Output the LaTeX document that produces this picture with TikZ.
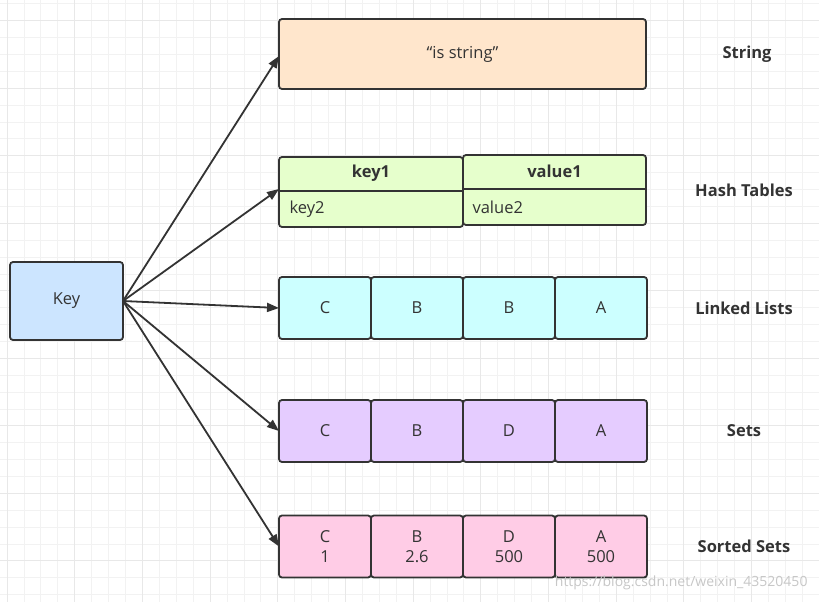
\documentclass[tikz,border=0pt]{standalone}
\usepackage{fontspec}
\setmainfont{Open Sans}
\usepackage{tikz}
\usetikzlibrary{arrows.meta, positioning}

\definecolor{inkgray}{HTML}{333333}
\definecolor{keyblue}{HTML}{CCE5FF}
\definecolor{strpeach}{HTML}{FFE6CC}
\definecolor{hashgreen}{HTML}{E6FFCC}
\definecolor{listcyan}{HTML}{CCFFFF}
\definecolor{setpurple}{HTML}{E5CCFF}
\definecolor{sortpink}{HTML}{FFCCE6}

\begin{document}
\begin{tikzpicture}[
      x=1pt, y=-1pt,
      box/.style={draw=inkgray, line width=1.8pt, rounded corners=3pt, inner sep=0pt, outer sep=0pt, font=\fontsize{16.5}{19}\selectfont, text=inkgray},
      cell/.style={box, minimum width=92pt, minimum height=62pt, align=center},
      typelabel/.style={font=\fontsize{16.5}{19}\selectfont\bfseries, text=inkgray},
      arrow/.style={-{Triangle[length=12pt, width=9pt]}, line width=1.8pt, draw=inkgray},
      gridminor/.style={draw=black!5, line width=0.7pt},
      gridmajor/.style={draw=black!9, line width=1pt}
    ]

      % Background grid
      \useasboundingbox[fill=white] (0,0) rectangle (819,602);
      \foreach \i in {0,...,48} {
        \draw[gridminor] ({-9.92+16.92*\i},0) -- ++(0,602);
      }
      \foreach \i in {0,...,36} {
        \draw[gridminor] (0,{3.8+16.88*\i}) -- ++(819,0);
      }
      \foreach \i in {0,...,12} {
        \draw[gridmajor] ({7+67.68*\i},0) -- ++(0,602);
      }
      \foreach \i in {0,...,9} {
        \draw[gridmajor] (0,{20.7+67.5*\i}) -- ++(819,0);
      }

      % Key box
      \node[box, fill=keyblue, minimum width=113pt, minimum height=78pt] (key) at (66.5,301) {Key};

      % String
      \node[box, fill=strpeach, minimum width=367pt, minimum height=70pt] (string) at (462.5,54) {``is string''};

      % Hash tables - two columns with a header row
      \node[box, fill=hashgreen, minimum width=184pt, minimum height=70pt] (hkey) at (371,192) {};
      \node[box, fill=hashgreen, minimum width=183pt, minimum height=70pt] (hval) at (554.5,190) {};
      \draw[draw=inkgray, line width=1.8pt] ([yshift=-34pt]hkey.north west) -- ([yshift=-34pt]hkey.north east);
      \draw[draw=inkgray, line width=1.8pt] ([yshift=-34pt]hval.north west) -- ([yshift=-34pt]hval.north east);
      \node[font=\fontsize{16.5}{19}\selectfont\bfseries, text=inkgray] (key1) at (371,173) {key1};
      \node[font=\fontsize{16.5}{19}\selectfont\bfseries, text=inkgray] (value1) at (554.5,171) {value1};
      \node[font=\fontsize{16.5}{19}\selectfont, text=inkgray, anchor=west] (key2) at (286,209) {key2};
      \node[font=\fontsize{16.5}{19}\selectfont, text=inkgray, anchor=west] (value2) at (469,207) {value2};

      % Linked lists
      \node[cell, fill=listcyan] (l1) at (325,308) {C};
      \node[cell, fill=listcyan, right=0pt of l1] (l2) {B};
      \node[cell, fill=listcyan, right=0pt of l2] (l3) {B};
      \node[cell, fill=listcyan, right=0pt of l3] (l4) {A};

      % Sets
      \node[cell, fill=setpurple] (s1) at (325,431) {C};
      \node[cell, fill=setpurple, right=0pt of s1] (s2) {B};
      \node[cell, fill=setpurple, right=0pt of s2] (s3) {D};
      \node[cell, fill=setpurple, right=0pt of s3] (s4) {A};

      % Sorted sets
      \node[cell, fill=sortpink] (z1) at (325,546.5) {C\\[1pt]1};
      \node[cell, fill=sortpink, right=0pt of z1] (z2) {B\\[1pt]2.6};
      \node[cell, fill=sortpink, right=0pt of z2] (z3) {D\\[1pt]500};
      \node[cell, fill=sortpink, right=0pt of z3] (z4) {A\\[1pt]500};

      % Type labels
      \node[typelabel] (lstring) at (747,54) {String};
      \node[typelabel] (lhash) at (744,190) {Hash Tables};
      \node[typelabel] (llist) at (744,308) {Linked Lists};
      \node[typelabel] (lset) at (744,431) {Sets};
      \node[typelabel] (lsort) at (744,546) {Sorted Sets};

      % Arrows from Key
      \draw[arrow] (key.east) -- ([yshift=-2pt]string.west);
      \draw[arrow] (key.east) -- ([yshift=3pt]hkey.west);
      \draw[arrow] (key.east) -- (l1.west);
      \draw[arrow] (key.east) -- (s1.west);
      \draw[arrow] (key.east) -- (z1.west);

      % Watermark
      \node[font=\fontsize{14}{16}\selectfont, text=black!22, anchor=east] (mark) at (811,583) {https://blog.csdn.net/weixin\_43520450};

    \end{tikzpicture}
\end{document}
